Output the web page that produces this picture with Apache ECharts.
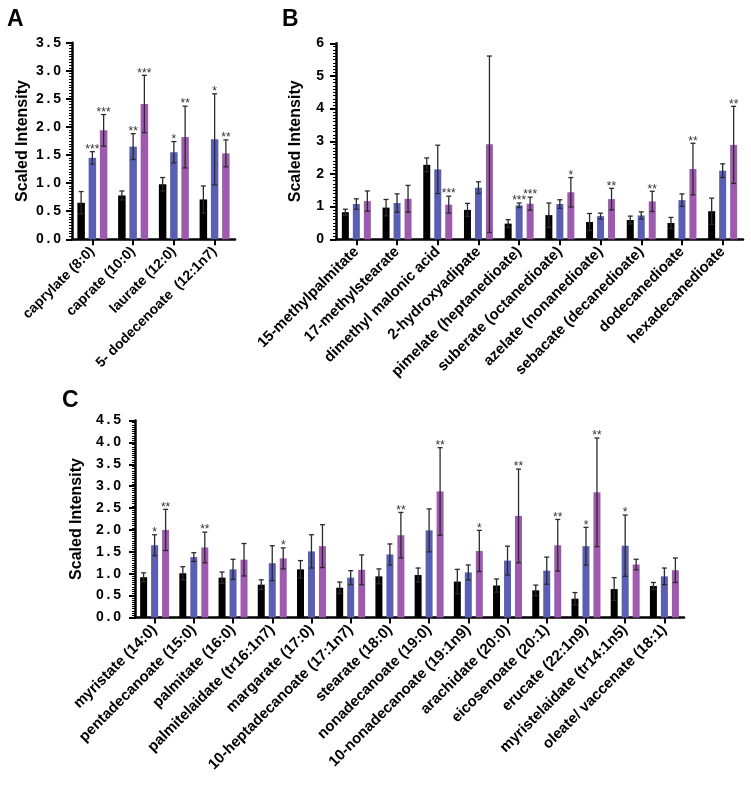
<!DOCTYPE html>
<html>
<head>
<meta charset="utf-8">
<script src="https://cdn.jsdelivr.net/npm/echarts@6/dist/echarts.min.js"></script>
<style>
html,body{margin:0;padding:0;background:#fff;}
#chart{width:751px;height:785px;}
</style>
</head>
<body>
<div id="chart"></div>
<script>
// ---------- Panel A ----------
const catsA = ['caprylate (8:0)','caprate (10:0)','laurate (12:0)','5- dodecenoate  (12:1n7)'];
const ctrlA = [0.65,0.78,0.98,0.71];
const ctrlErrA = [0.20,0.08,0.12,0.24];
const blueA = [1.45,1.65,1.55,1.78];
const blueErrA = [0.11,0.23,0.19,0.81];
const purpleA = [1.94,2.41,1.82,1.53];
const purpleErrA = [0.28,0.51,0.55,0.24];
const blueStarsA = ['***','**','*','*'];
const purpleStarsA = ['***','***','**','**'];
const yTicksA = {min:0,max:3.5,interval:0.5};

// ---------- Panel B ----------
const catsB = ['15-methylpalmitate','17-methylstearate','dimethyl malonic acid','2-hydroxyadipate','pimelate (heptanedioate)','suberate (octanedioate)','azelate (nonanedioate)','sebacate (decanedioate)','dodecanedioate','hexadecanedioate'];
const ctrlB = [0.83,0.97,2.28,0.90,0.48,0.74,0.53,0.59,0.50,0.86];
const ctrlErrB = [0.09,0.25,0.21,0.20,0.12,0.37,0.26,0.12,0.17,0.40];
const blueB = [1.08,1.11,2.14,1.58,1.04,1.08,0.71,0.73,1.20,2.10];
const blueErrB = [0.16,0.28,0.74,0.18,0.07,0.13,0.09,0.11,0.19,0.21];
const purpleB = [1.17,1.24,1.06,2.91,1.09,1.44,1.23,1.16,2.15,2.89];
const purpleErrB = [0.31,0.41,0.26,2.70,0.20,0.45,0.33,0.31,0.79,1.18];
const blueStarsB = ['','','','','***','','','','',''];
const purpleStarsB = ['','','***','','***','*','**','**','**','**'];
const yTicksB = {min:0,max:6,interval:1};

// ---------- Panel C ----------
const catsC = ['myristate (14:0)','pentadecanoate (15:0)','palmitate (16:0)','palmitelaidate (tr16:1n7)','margarate (17:0)','10-heptadecanoate (17:1n7)','stearate (18:0)','nonadecanoate (19:0)','10-nonadecanoate (19:1n9)','arachidate (20:0)','eicosenoate (20:1)','erucate (22:1n9)','myristelaidate (tr14:1n5)','oleate/ vaccenate (18:1)'];
const ctrlC = [0.92,1.01,0.91,0.75,1.10,0.68,0.94,0.97,0.82,0.73,0.62,0.43,0.65,0.72];
const ctrlErrC = [0.10,0.15,0.13,0.11,0.20,0.13,0.17,0.16,0.28,0.15,0.12,0.14,0.26,0.08];
const blueC = [1.65,1.38,1.10,1.24,1.51,0.91,1.44,1.99,1.03,1.30,1.07,1.63,1.64,0.94];
const blueErrC = [0.24,0.10,0.23,0.40,0.38,0.16,0.24,0.49,0.17,0.33,0.31,0.43,0.70,0.19];
const purpleC = [2.00,1.60,1.32,1.35,1.63,1.09,1.88,2.88,1.52,2.32,1.65,2.86,1.21,1.08];
const purpleErrC = [0.47,0.35,0.37,0.24,0.49,0.34,0.52,1.00,0.47,1.07,0.59,1.24,0.12,0.28];
const blueStarsC = ['*','','','','','','','','','','','*','*',''];
const purpleStarsC = ['**','**','','*','','','**','**','*','**','**','**','',''];
const yTicksC = {min:0,max:4.5,interval:0.5};

const emptyStars = n => new Array(n).fill('');

const COL_CTRL = '#000000';
const COL_BLUE = '#5a5fb4';
const COL_PURPLE = '#9d5aaf';
const ERR_COL = '#2b2b2b';
const FONT = 'Liberation Sans, Arial, sans-serif';

const panels = [
  {cats:catsA, grid:{left:72, top:42.7, width:163, height:196.6}, y:yTicksA, dec:1, nameGap:41, labMargin:11, xFont:14, bw:7.5, gap:'50%',
   series:[[ctrlA,ctrlErrA,emptyStars(4),COL_CTRL],[blueA,blueErrA,blueStarsA,COL_BLUE],[purpleA,purpleErrA,purpleStarsA,COL_PURPLE]]},
  {cats:catsB, grid:{left:336, top:43.3, width:407, height:196}, y:yTicksB, dec:0, nameGap:32, labMargin:12, xFont:15, bw:7, gap:'57%',
   series:[[ctrlB,ctrlErrB,emptyStars(10),COL_CTRL],[blueB,blueErrB,blueStarsB,COL_BLUE],[purpleB,purpleErrB,purpleStarsB,COL_PURPLE]]},
  {cats:catsC, grid:{left:135, top:420.5, width:549, height:197}, y:yTicksC, dec:1, nameGap:48, labMargin:14, xFont:15, bw:7, gap:'57%',
   series:[[ctrlC,ctrlErrC,emptyStars(14),COL_CTRL],[blueC,blueErrC,blueStarsC,COL_BLUE],[purpleC,purpleErrC,purpleStarsC,COL_PURPLE]]}
];

const spaced = s => s.split('').join('\u2009');

const grids = [], xAxes = [], yAxes = [], series = [];
panels.forEach((p, pi) => {
  grids.push(Object.assign({containLabel:false}, p.grid));
  xAxes.push({
    type:'category', gridIndex:pi, data:p.cats,
    axisLine:{show:true, lineStyle:{color:'#000', width:2.5}},
    axisTick:{show:true, alignWithLabel:true, length:6, lineStyle:{color:'#000', width:2}},
    axisLabel:{rotate:45, interval:0, color:'#000', fontWeight:'bold', fontSize:p.xFont, fontFamily:FONT, margin:10},
    splitLine:{show:false}
  });
  yAxes.push({
    type:'value', gridIndex:pi, min:p.y.min, max:p.y.max, interval:p.y.interval,
    name:'Scaled Intensity', nameLocation:'middle', nameGap:p.nameGap,
    nameTextStyle:{color:'#000', fontWeight:'bold', fontSize:16, fontFamily:FONT},
    axisLine:{show:true, lineStyle:{color:'#000', width:2.5}},
    axisTick:{show:true, length:6, lineStyle:{color:'#000', width:2}},
    minorTick:{show:true, splitNumber:10, length:3, lineStyle:{color:'#000', width:1}},
    splitLine:{show:false}, minorSplitLine:{show:false},
    axisLabel:{color:'#000', fontWeight:'bold', fontSize:14, fontFamily:FONT, margin:p.labMargin,
      formatter: v => p.dec ? spaced(v.toFixed(1)) : String(Math.round(v))}
  });
  const bw = p.bw;
  const spacing = bw * (1 + parseFloat(p.gap)/100);
  p.series.forEach((s, si) => {
    const [vals, errs, stars, col] = s;
    series.push({
      type:'bar', xAxisIndex:pi, yAxisIndex:pi, data:vals, barWidth:bw, barGap:p.gap,
      itemStyle:{color:col}, silent:true, z:2
    });
    const offset = (si - 1) * spacing;
    series.push({
      type:'custom', xAxisIndex:pi, yAxisIndex:pi, silent:true, z:5,
      data: vals.map((v, i) => [i, v, errs[i]]),
      encode:{x:0, y:1},
      renderItem: (params, api) => {
        const i = api.value(0), v = api.value(1), e = api.value(2);
        const c = api.coord([i, v]);
        const x = c[0] + offset;
        const yt = api.coord([i, v + e])[1];
        const yb = api.coord([i, Math.max(0, v - e)])[1];
        const st = {stroke:ERR_COL, lineWidth:1.3};
        const children = [
          {type:'line', shape:{x1:x, y1:yt, x2:x, y2:yb}, style:st},
          {type:'line', shape:{x1:x-2.5, y1:yt, x2:x+2.5, y2:yt}, style:st},
          {type:'line', shape:{x1:x-2.5, y1:yb, x2:x+2.5, y2:yb}, style:st}
        ];
        const star = stars[params.dataIndex];
        if (star) {
          children.push({type:'text', style:{text:star, x:x, y:yt - 2, align:'center', verticalAlign:'middle',
            fill:'#333', fontSize:12, fontFamily:FONT}});
        }
        return {type:'group', children};
      }
    });
  });
});

const chart = echarts.init(document.getElementById('chart'), null, {renderer:'canvas'});
chart.setOption({
  animation:false,
  backgroundColor:'#fff',
  grid:grids, xAxis:xAxes, yAxis:yAxes, series:series,
  graphic:[
    {type:'text', left:7, top:8, style:{text:'A', fill:'#000', font:'bold 23px ' + FONT}},
    {type:'text', left:282, top:8, style:{text:'B', fill:'#000', font:'bold 23px ' + FONT}},
    {type:'text', left:62, top:389, style:{text:'C', fill:'#000', font:'bold 23px ' + FONT}}
  ]
});
</script>
</body>
</html>
